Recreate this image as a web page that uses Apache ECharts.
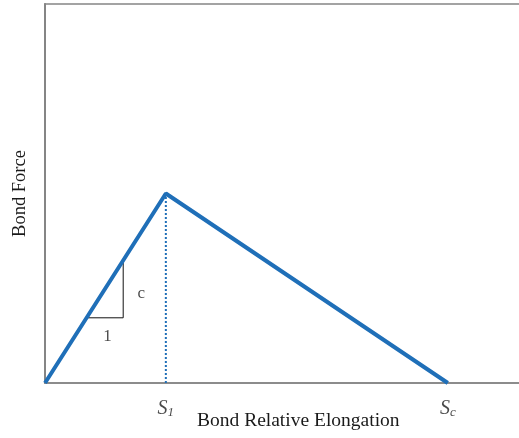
<!DOCTYPE html>
<html>
<head>
<meta charset="utf-8">
<script src="https://cdn.jsdelivr.net/npm/echarts@6/dist/echarts.min.js"></script>
<style>
  html, body { margin: 0; padding: 0; background: #fff; }
  #chart { width: 519px; height: 438px; }
</style>
</head>
<body>
<div id="chart"></div>
<script>
// Bilinear bond force–elongation law (units are schematic)
const elongation = [0, 2.55, 8.5];       // 0, S1, Sc
const bondForce  = [0, 5, 0];
const peakMarker = [[2.55, 0], [2.55, 5]];
// slope triangle on the rising branch
const slopeTriangle = [[0.91, 1.72], [1.65, 1.72], [1.65, 3.19]];
const slopeLabels = [
  { value: [2.03, 2.37], text: 'c' },
  { value: [1.32, 1.22], text: '1' }
];
const tickLabels = [
  { value: 2.55, text: '{s|S}{sub|1}' },
  { value: 8.5,  text: '{s|S}{sub|c}' }
];

const BLUE = '#1f6fb8';
const AXIS = '#858585';
const INK = '#1a1a1a';
const SERIF = '"Liberation Serif", "DejaVu Serif", serif';

const chart = echarts.init(document.getElementById('chart'));
chart.setOption({
  animation: false,
  grid: {
    left: 45, top: 4, width: 490, height: 379,
    containLabel: false,
    outerBoundsMode: 'none',
    show: true, borderColor: AXIS, borderWidth: 1.5
  },
  xAxis: {
    type: 'value', min: 0, max: 10.34,
    splitLine: { show: false },
    axisTick: { show: false },
    axisLabel: { show: false },
    axisLine: { show: true, lineStyle: { color: AXIS, width: 1.5 } }
  },
  yAxis: {
    type: 'value', min: 0, max: 10,
    name: 'Bond Force',
    nameLocation: 'middle',
    nameGap: 15,
    nameTextStyle: { fontFamily: SERIF, fontSize: 18.5, color: INK },
    splitLine: { show: false },
    axisTick: { show: false },
    axisLabel: { show: false },
    axisLine: { show: true, lineStyle: { color: AXIS, width: 2 } }
  },
  graphic: [{
    type: 'text',
    left: 197, top: 411,
    style: {
      text: 'Bond Relative Elongation',
      fontFamily: SERIF, fontSize: 19.5, fill: INK
    }
  }],
  series: [
    {
      type: 'line',
      data: elongation.map((x, i) => [x, bondForce[i]]),
      symbol: 'none',
      lineStyle: { color: BLUE, width: 4 },
      z: 5
    },
    {
      type: 'line',
      data: peakMarker,
      symbol: 'none',
      lineStyle: { color: BLUE, width: 2, type: [2, 2] },
      z: 3
    },
    {
      type: 'line',
      data: slopeTriangle,
      symbol: 'none',
      lineStyle: { color: '#111', width: 1 },
      z: 4
    },
    {
      type: 'scatter',
      symbolSize: 0,
      data: slopeLabels.map(d => ({ value: d.value, label: { formatter: d.text } })),
      label: {
        show: true, position: 'inside',
        fontFamily: SERIF, fontSize: 17, color: INK
      }
    },
    {
      type: 'scatter',
      symbolSize: 0,
      data: tickLabels.map(d => ({ value: [d.value, 0], label: { formatter: d.text } })),
      label: {
        show: true, position: 'bottom', distance: 15,
        rich: {
          s: { fontFamily: SERIF, fontStyle: 'italic', fontSize: 20, color: INK },
          sub: { fontFamily: SERIF, fontStyle: 'italic', fontSize: 13, color: INK, verticalAlign: 'bottom', padding: [8, 0, 0, 0] }
        }
      }
    }
  ]
});
</script>
</body>
</html>
